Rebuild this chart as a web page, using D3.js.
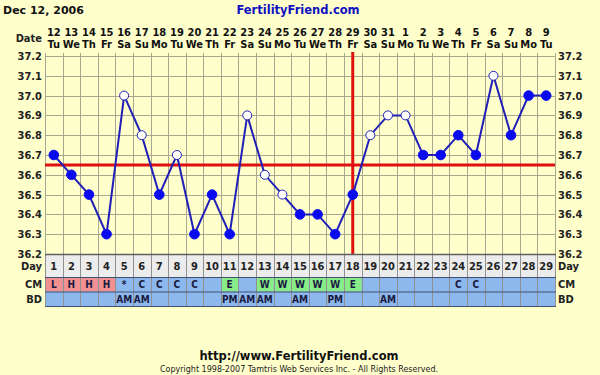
<!DOCTYPE html>
<html>
<head>
<meta charset="utf-8">
<script src="https://d3js.org/d3.v7.min.js"></script>
<style>
  body { margin: 0; background: #ffffcc; }
  svg { display: block; }
  text { font-family: "DejaVu Sans Condensed", "DejaVu Sans", sans-serif; font-weight: bold; }
  text.wide { font-family: "DejaVu Sans", sans-serif; }
  text.thin { font-weight: normal; }
</style>
</head>
<body>
<script>
/* chart data */
var cycleDays = d3.range(1, 30);
var dateLabels = ["12","13","14","15","16","17","18","19","20","21","22","23","24","25","26","27","28","29","30","31","1","2","3","4","5","6","7","8","9"];
var weekdays = ["Tu","We","Th","Fr","Sa","Su","Mo"];
var temps = [36.7,36.6,36.5,36.3,37.0,36.8,36.5,36.7,36.3,36.5,36.3,36.9,36.6,36.5,36.4,36.4,36.3,36.5,36.8,36.9,36.9,36.7,36.7,36.8,36.7,37.1,36.8,37.0,37.0];
var openPoint = [0,0,0,0,1,1,0,1,0,0,0,1,1,1,0,0,0,0,1,1,1,0,0,0,0,1,0,0,0];
var cmCodes = ["L","H","H","H","*","C","C","C","C","","E","","W","W","W","W","W","E","","","","","","C","C","","","",""];
var bdCodes = ["","","","","AM","AM","","","","","PM","AM","AM","","AM","","PM","","","AM","","","","","","","","",""];
var tempTicks = [36.2,36.3,36.4,36.5,36.6,36.7,36.8,36.9,37.0,37.1,37.2];
var coverline = 36.65;
var ovulationDay = 18;

var W = 600, H = 375;
var pLeft = 45, pRight = 555, pTop = 56, pBottom = 254;

var svg = d3.select("body").append("svg").attr("width", W).attr("height", H);
svg.append("rect").attr("width", W).attr("height", H).attr("fill", "#ffffcc");

var x = d3.scaleBand().domain(cycleDays).range([pLeft, pRight]);
var xEdge = d3.scaleLinear().domain([0, cycleDays.length]).range([pLeft, pRight]);
var y = d3.scaleLinear().domain([36.2, 37.2]).range([pBottom, pTop]);
function cx(i){ return x(cycleDays[i]) + x.bandwidth() / 2; }

/* grid */
var grid = svg.append("g");
grid.selectAll("line.v").data(d3.range(0, cycleDays.length + 1)).enter().append("line")
    .attr("x1", function(d){ return Math.round(xEdge(d)) + 0.5; })
    .attr("x2", function(d){ return Math.round(xEdge(d)) + 0.5; })
    .attr("y1", pTop - 3).attr("y2", pBottom)
    .attr("stroke", "#a8a890").attr("stroke-width", 1);
grid.selectAll("line.h").data(tempTicks).enter().append("line")
    .attr("x1", pLeft).attr("x2", pRight)
    .attr("y1", function(d){ return Math.round(y(d)) + 0.5; })
    .attr("y2", function(d){ return Math.round(y(d)) + 0.5; })
    .attr("stroke", "#a8a890").attr("stroke-width", 1);

/* temperature axes */
var fmt = d3.format(".1f");
var yl = svg.append("g").attr("transform", "translate(" + (pLeft - 2) + ",0)")
    .call(d3.axisLeft(y).tickValues(tempTicks).tickFormat(fmt).tickSize(0).tickPadding(1));
var yr = svg.append("g").attr("transform", "translate(" + (pRight + 2) + ",0)")
    .call(d3.axisRight(y).tickValues(tempTicks).tickFormat(fmt).tickSize(0).tickPadding(1));
[yl, yr].forEach(function(a){
  a.select(".domain").remove();
  a.selectAll("text").attr("font-size", 11).attr("fill", "#222")
      .attr("font-family", "'DejaVu Sans Condensed', 'DejaVu Sans', sans-serif");
});

/* date header */
var hdr = svg.append("g");
hdr.selectAll("text.dt").data(dateLabels).enter().append("text")
    .attr("x", function(d, i){ return cx(i); })
    .attr("y", 36).attr("text-anchor", "middle")
    .attr("font-size", 11).attr("fill", "#111").text(function(d){ return d; });
hdr.selectAll("text.wd").data(cycleDays).enter().append("text")
    .attr("x", function(d, i){ return cx(i); })
    .attr("y", 48).attr("text-anchor", "middle")
    .attr("font-size", 11).attr("fill", "#111").text(function(d, i){ return weekdays[i % 7]; });
svg.append("text").attr("x", 42).attr("y", 42).attr("text-anchor", "end")
    .attr("font-size", 11).attr("fill", "#222").text("Date");

/* title */
svg.append("text").attr("class", "wide").attr("x", 3).attr("y", 14)
    .attr("font-size", 11).attr("fill", "#111").text("Dec 12, 2006");
svg.append("text").attr("class", "wide").attr("x", 298).attr("y", 14).attr("text-anchor", "middle")
    .attr("font-size", 11.5).attr("fill", "#1010c0").text("FertilityFriend.com");

/* coverline and ovulation line */
svg.append("line").attr("x1", pLeft).attr("x2", pRight)
    .attr("y1", y(coverline)).attr("y2", y(coverline))
    .attr("stroke", "#e01010").attr("stroke-width", 3);
svg.append("line")
    .attr("x1", x(ovulationDay) + x.bandwidth() / 2).attr("x2", x(ovulationDay) + x.bandwidth() / 2)
    .attr("y1", pTop - 4).attr("y2", pBottom)
    .attr("stroke", "#e01010").attr("stroke-width", 3);

/* temperature line */
var line = d3.line()
    .x(function(d, i){ return cx(i); })
    .y(function(d){ return y(d); });
svg.append("path").datum(temps).attr("d", line)
    .attr("fill", "none").attr("stroke", "#2020b8").attr("stroke-width", 2);
svg.selectAll("circle.pt").data(temps).enter().append("circle")
    .attr("cx", function(d, i){ return cx(i); })
    .attr("cy", function(d){ return y(d); })
    .attr("r", function(d, i){ return openPoint[i] ? 4.5 : 4.8; })
    .attr("fill", function(d, i){ return openPoint[i] ? "#ffffff" : "#0a0aee"; })
    .attr("stroke", function(d, i){ return openPoint[i] ? "#2020b8" : "#0a0aee"; })
    .attr("stroke-width", 1);

/* day / CM / BD rows */
var rowDay = [pBottom, 277], rowCM = [277, 291.5], rowBD = [291.5, 306];
var rows = svg.append("g");
rows.append("rect").attr("x", pLeft).attr("y", rowDay[0]).attr("width", pRight - pLeft)
    .attr("height", rowDay[1] - rowDay[0]).attr("fill", "#ececec");
rows.append("rect").attr("x", pLeft).attr("y", rowCM[0]).attr("width", pRight - pLeft)
    .attr("height", rowBD[1] - rowCM[0]).attr("fill", "#8cb8ee");
var cmColor = { L: "#f09090", H: "#f09090", E: "#88ec88", W: "#88ec88" };
var cmCells = cmCodes.map(function(c, i){ return { code: c, i: i }; })
    .filter(function(d){ return cmColor[d.code]; });
rows.selectAll("rect.cm").data(cmCells).enter().append("rect")
    .attr("x", function(d){ return x(cycleDays[d.i]); })
    .attr("y", rowCM[0]).attr("width", x.bandwidth()).attr("height", rowCM[1] - rowCM[0])
    .attr("fill", function(d){ return cmColor[d.code]; });
rows.selectAll("line.rv").data(d3.range(0, cycleDays.length + 1)).enter().append("line")
    .attr("x1", function(d){ return Math.round(xEdge(d)) + 0.5; })
    .attr("x2", function(d){ return Math.round(xEdge(d)) + 0.5; })
    .attr("y1", rowDay[0]).attr("y2", rowBD[1])
    .attr("stroke", "#909090").attr("stroke-width", 1);
[rowDay[0], rowCM[0], rowBD[0], rowBD[1]].forEach(function(yy, k){
  rows.append("line").attr("x1", pLeft).attr("x2", pRight + 1)
      .attr("y1", yy + 0.5).attr("y2", yy + 0.5)
      .attr("stroke", k === 0 ? "#606060" : "#405070").attr("stroke-width", k === 0 ? 1.5 : 1);
});
rows.selectAll("text.day").data(cycleDays).enter().append("text")
    .attr("x", function(d, i){ return cx(i); })
    .attr("y", 270).attr("text-anchor", "middle")
    .attr("font-size", 11).attr("fill", "#222").text(function(d){ return d; });
rows.selectAll("text.cm").data(cmCodes).enter().append("text")
    .attr("x", function(d, i){ return cx(i); })
    .attr("y", 288).attr("text-anchor", "middle")
    .attr("font-size", 10).attr("fill", "#1a1a40").text(function(d){ return d; });
rows.selectAll("text.bd").data(bdCodes).enter().append("text")
    .attr("x", function(d, i){ return cx(i); })
    .attr("y", 303).attr("text-anchor", "middle")
    .attr("font-size", 10).attr("fill", "#1a1a40").text(function(d){ return d; });
[["Day", 270], ["CM", 288], ["BD", 303]].forEach(function(r){
  svg.append("text").attr("x", 42).attr("y", r[1]).attr("text-anchor", "end")
      .attr("font-size", 11).attr("fill", "#222").text(r[0]);
  svg.append("text").attr("x", 558).attr("y", r[1])
      .attr("font-size", 11).attr("fill", "#222").text(r[0]);
});

/* footer */
svg.append("text").attr("class", "wide").attr("x", 299).attr("y", 360).attr("text-anchor", "middle")
    .attr("font-size", 11.5).attr("fill", "#111").text("http://www.FertilityFriend.com");
svg.append("text").attr("class", "wide thin").attr("x", 299).attr("y", 372).attr("text-anchor", "middle")
    .attr("font-size", 8).attr("fill", "#222")
    .text("Copyright 1998-2007 Tamtris Web Services Inc. - All Rights Reserved.");
</script>
</body>
</html>
